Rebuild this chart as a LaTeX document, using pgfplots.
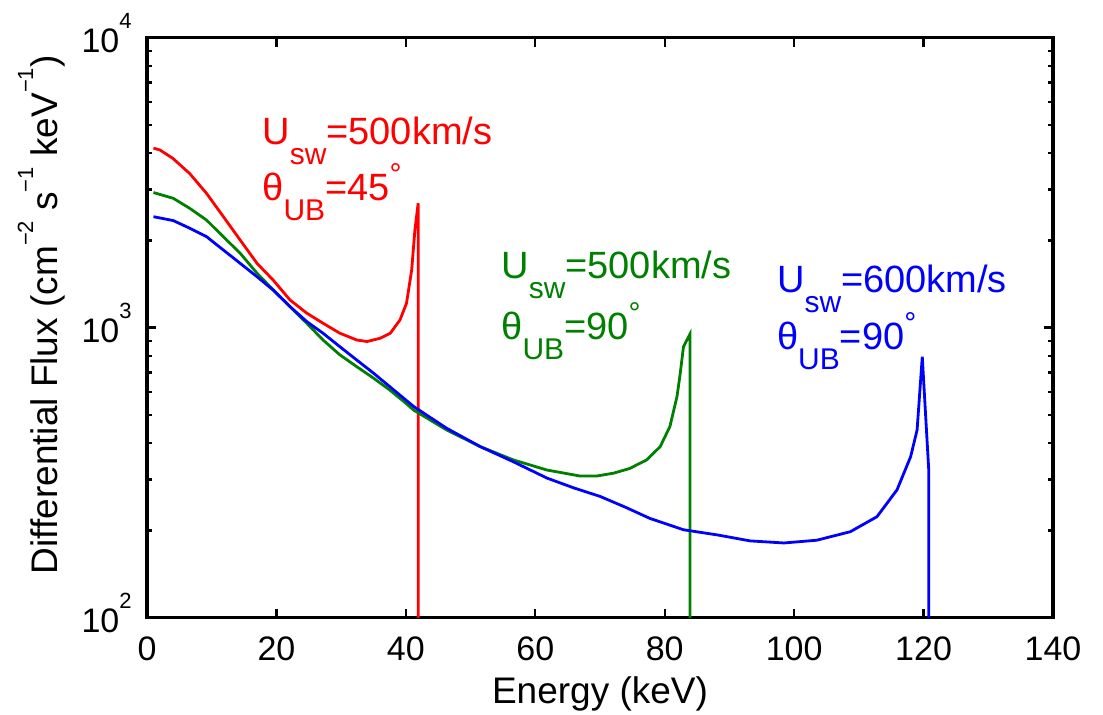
\documentclass[border=0pt]{standalone}
\usepackage{fontspec}
\setmainfont{Liberation Sans}
\usepackage{pgfplots}
\pgfplotsset{compat=1.18}
\definecolor{mred}{RGB}{255,0,0}
\definecolor{mgreen}{RGB}{0,128,0}
\definecolor{mblue}{RGB}{0,0,255}
% matlab-like sub/superscripts
\newcommand{\msub}[1]{\raisebox{-10pt}{\fontsize{15}{15}\selectfont #1}}
\newcommand{\dg}{\raisebox{8pt}{\fontsize{15}{15}\selectfont °}}
\newcommand{\msup}[1]{\raisebox{12pt}{\fontsize{11}{11}\selectfont #1}}
\newcommand{\annfont}{\fontsize{19}{22}\selectfont}

\begin{document}
\begin{tikzpicture}
\begin{axis}[
  width=453pt, height=290pt, scale only axis,
  ymode=log, xmin=0, xmax=140, ymin=100, ymax=10000,
  xtick={0,20,...,140},
  ytick={100,1000,10000},
  yticklabels={10\msup{2},10\msup{3},10\msup{4}},
  /pgf/number format/assume math mode=true,
  tick pos=both, tick align=inside,
  major tick length=4.5pt, minor tick length=2.5pt,
  axis line style={line width=1.6pt},
  every tick/.style={black, line width=1.2pt},
  tick label style={font=\fontsize{17}{20}\selectfont, inner sep=0pt},
  xticklabel style={anchor=north, yshift=-9.5pt},
  yticklabel style={anchor=base east, xshift=-7.5pt, yshift=-7.5pt},
  xlabel={Energy (keV)},
  ylabel={Differential Flux (cm\msup{−2} s\msup{−1} keV\msup{−1})},
  label style={font=\fontsize{18.5}{22}\selectfont, inner sep=0pt},
  xlabel style={at={(axis description cs:0.5,0)}, anchor=base, yshift=-42.7pt},
  ylabel style={at={(axis description cs:-0.0993,0.522)}, anchor=base},
]
\addplot[mred, line width=1.4pt] coordinates {
(1,4160)(2,4100)(4,3835)(6.6,3400)(9.2,2905)(11.8,2415)(14.4,2005)(17,1667)
(19.5,1459)(22.1,1246)(24.7,1122)(27.2,1036)(29.8,957)(32.4,907)(34,896)
(36,919)(37.6,957)(39.1,1064)(40.1,1214)(40.9,1581)(41.4,2173)(41.9,2685)
(41.9,50)};
\addplot[mgreen, line width=1.4pt] coordinates {
(1,2924)(4.07,2793)(6.6,2580)(9.2,2350)(11.8,2058)(14.4,1806)(17,1541)
(19.5,1350)(22.1,1182)(24.7,1035)(27.2,907)(29.8,806)(32.4,734)(35,670)
(37.5,610)(40,549)(41.2,520)(46.3,444)(51.5,389)(56.6,350)(61.8,323)
(66.9,308)(69.5,308)(72.1,315)(74.6,327)(77.2,350)(79.3,389)(80.8,456)
(81.9,579)(82.4,696)(82.9,860)(83.9,950)(83.9,50)};
\addplot[mblue, line width=1.4pt] coordinates {
(1,2414)(4.07,2340)(6.6,2203)(9.2,2060)(11.8,1853)(14.4,1667)(17,1499)
(19.5,1348)(22.1,1182)(24.7,1049)(27.2,957)(29.8,860)(32.4,774)(35,697)
(41.2,535)(46.3,450)(51.5,389)(56.6,345)(61.8,303)(66,280)(70,262)(74,240)
(77.7,220)(82.9,201)(88.1,193)(93.2,184)(98.4,181)(103.5,185)(108.7,198)
(112.8,223)(115.9,276)(118,359)(119,444)(119.8,794)(120.8,323)(120.8,50)};
% annotations
\node[mred, anchor=base west, inner sep=0pt, font=\annfont] at (axis cs:17.77,4266) {U\msub{sw}=500km/s};
\node[mred, anchor=base west, inner sep=0pt, font=\annfont] at (axis cs:17.77,2754) {θ\msub{UB}=45\dg};
\node[mgreen, anchor=base west, inner sep=0pt, font=\annfont] at (axis cs:54.7,1483) {U\msub{sw}=500km/s};
\node[mgreen, anchor=base west, inner sep=0pt, font=\annfont] at (axis cs:54.7,914) {θ\msub{UB}=90\dg};
\node[mblue, anchor=base west, inner sep=0pt, font=\annfont] at (axis cs:97.3,1327) {U\msub{sw}=600km/s};
\node[mblue, anchor=base west, inner sep=0pt, font=\annfont] at (axis cs:97.3,838) {θ\msub{UB}=90\dg};
\end{axis}
\pgfresetboundingbox
\useasboundingbox (-73.5pt,-48.65pt) rectangle (478pt,308.85pt);
\end{tikzpicture}
\end{document}
